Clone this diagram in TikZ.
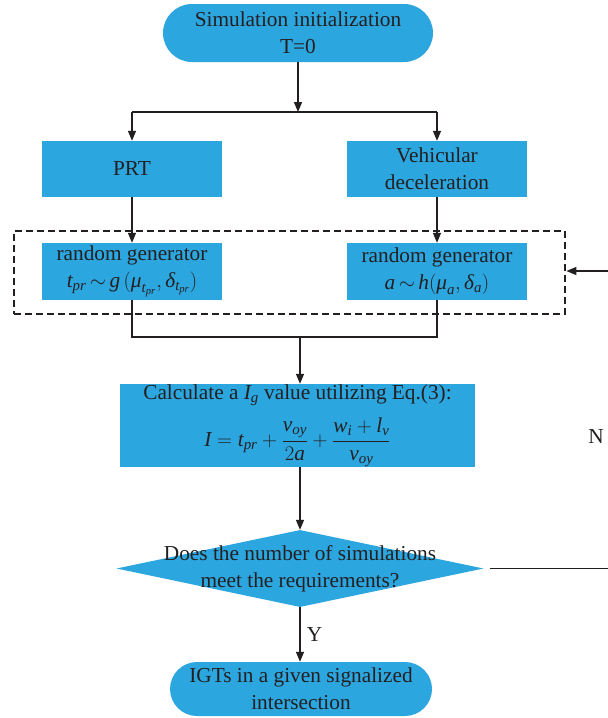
\documentclass[tikz,border=0pt]{standalone}
\usepackage{amsmath}
\usepackage{fontspec}
\setmainfont{Liberation Serif}
\usetikzlibrary{arrows.meta,shapes.geometric}
\definecolor{boxblue}{RGB}{44,166,223}
\definecolor{txt}{RGB}{35,31,32}
\newcommand\mi[1]{\textit{#1}}
\tikzset{
  box/.style={fill=boxblue,draw=none,minimum width=180pt,minimum height=56pt,align=center,inner sep=0pt,text=txt},
  term/.style={fill=boxblue,draw=none,rounded corners=27pt,align=center,inner sep=0pt,text=txt},
  arr/.style={-{Triangle[length=10pt,width=8pt]},line width=1.3pt,draw=txt},
  ln/.style={line width=1.3pt,draw=txt},
}
\begin{document}
\begin{tikzpicture}[x=1pt,y=-1pt,font=\fontsize{21.3}{27}\selectfont]
\useasboundingbox (0,0) rectangle (608,718);
\node[term,minimum width=270pt,minimum height=58pt,rounded corners=29pt] (top) at (298,33) {Simulation initialization\\T=0};
\node[box] (prt) at (132,169) {PRT};
\node[box] (veh) at (437,169) {Vehicular\\deceleration};
\node[box,minimum height=57pt] (rgl) at (132,271.5) {random generator\\$\mi{t}_{\mi{pr}}\,{\sim}\,\mi{g}\,(\mi{μ}_{\mi{t}_{\mi{pr}}},\mi{δ}_{\mi{t}_{\mi{pr}}})$};
\node[box,minimum height=57pt] (rgr) at (437,271.5) {random generator\\$\mi{a}\,{\sim}\,\mi{h}(\mi{μ}_{\mi{a}},\mi{δ}_{\mi{a}})$};
\node[draw=txt,dash pattern=on 7pt off 4pt,line width=2.8pt,minimum width=551pt,minimum height=83pt,inner sep=0pt] (dbox) at (289.5,272.5) {};
\node[box,minimum width=355pt,minimum height=83pt] (calc) at (297.5,425.5) {Calculate a $\mi{I}_{\mi{g}}$ value utilizing Eq.(3):\\[11pt]
$\mi{I} = \mi{t}_{\mi{pr}} + \dfrac{\mi{v}_{\mi{oy}}}{2\mi{a}\rule{0pt}{16pt}} + \dfrac{\mi{w}_{\mi{i}} + \mi{l}_{\mi{v}}}{\mi{v}_{\mi{oy}}\rule{0pt}{16pt}}$};
\node[diamond,fill=boxblue,minimum width=367pt,minimum height=77pt,inner sep=0pt] (dia) at (300,568.5) {};
\node[align=center,text=txt,inner sep=0pt] (diatext) at (300,568.5) {Does the number of simulations\\meet the requirements?};
\node[term,minimum width=262pt,minimum height=54pt] (end) at (301,689) {IGTs in a given signalized\\intersection};
\coordinate (j1) at (298,112);
\coordinate (j2) at (300,337);
\coordinate (nR) at (608,568.5);
\coordinate (nR2) at (608,271);
\draw[arr] (top.south) -- (top.south |- j1);
\draw[arr] (j1 -| prt.north) -- (prt.north);
\draw[ln] (j1 -| prt.north) -- (j1 -| veh.north);
\draw[arr] (j1 -| veh.north) -- (veh.north);
\draw[arr] (prt.south) -- (rgl.north);
\draw[arr] (veh.south) -- (rgr.north);
\draw[ln] (rgl.south) -- (rgl.south |- j2) -- (rgr.south |- j2) -- (rgr.south);
\draw[arr] (j2) -- (j2 |- calc.north);
\draw[arr] (calc.south -| dia.north) -- (dia.north);
\draw[arr] (dia.south) -- node[right,text=txt,xshift=3pt] (ylab) {Y} (dia.south |- end.north);
\draw[ln] ([xshift=6pt]dia.east) -- (nR);
\draw[arr] (nR2) -- (nR2 -| dbox.east);
\node[text=txt] (nlab) at (596,437) {N};
\end{tikzpicture}
\end{document}
